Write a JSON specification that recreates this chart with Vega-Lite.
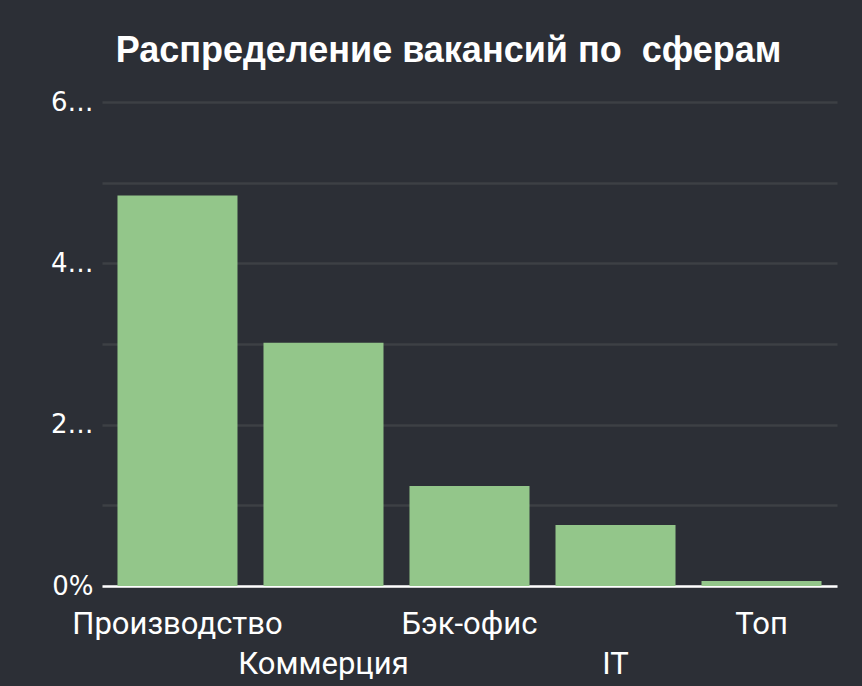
{
  "$schema": "https://vega.github.io/schema/vega-lite/v6.json",
  "width": 735,
  "height": 484,
  "autosize": {"type": "none"},
  "padding": {"left": 102, "top": 102, "right": 25, "bottom": 100},
  "background": "#2c2f36",
  "title": {
    "text": "Распределение вакансий по\u00a0 сферам",
    "font": "Liberation Sans",
    "fontWeight": "bold",
    "fontSize": 36,
    "color": "#ffffff",
    "anchor": "middle",
    "dx": -21,
    "offset": 19
  },
  "data": {
    "values": [
      {"sphere": "Производство", "share": 0.484},
      {"sphere": "Коммерция", "share": 0.3016},
      {"sphere": "Бэк-офис", "share": 0.1241},
      {"sphere": "IT", "share": 0.0757},
      {"sphere": "Топ", "share": 0.0062}
    ]
  },
  "mark": {"type": "bar", "color": "#93c68a"},
  "encoding": {
    "x": {
      "field": "sphere",
      "type": "nominal",
      "sort": null,
      "scale": {"paddingInner": 0.178, "paddingOuter": 0.106},
      "axis": {
        "title": null,
        "labelAngle": 0,
        "labelOverlap": false,
        "labelLimit": 400,
        "labelFont": "Roboto",
        "labelFontSize": 31,
        "labelColor": "#ffffff",
        "labelPadding": 23,
        "labelBaseline": "top",
        "labelLineHeight": 40,
        "labelExpr": "indexof(['Коммерция','IT'], datum.label) >= 0 ? ['', datum.label] : datum.label",
        "ticks": false,
        "domainColor": "#ffffff",
        "domainWidth": 2.5
      }
    },
    "y": {
      "field": "share",
      "type": "quantitative",
      "scale": {"domain": [0, 0.6], "nice": false},
      "axis": {
        "title": null,
        "values": [0, 0.1, 0.2, 0.3, 0.4, 0.5, 0.6],
        "format": ".0%",
        "labelExpr": "(round(datum.value * 10) % 2 == 0) ? datum.label : ''",
        "labelFont": "DejaVu Sans",
        "labelFontSize": 26,
        "labelColor": "#ffffff",
        "labelLimit": 48,
        "labelPadding": 9,
        "ticks": false,
        "domain": false,
        "grid": true,
        "gridColor": "#3d4045",
        "gridWidth": 2.5
      }
    }
  },
  "config": {
    "view": {"stroke": null}
  }
}
